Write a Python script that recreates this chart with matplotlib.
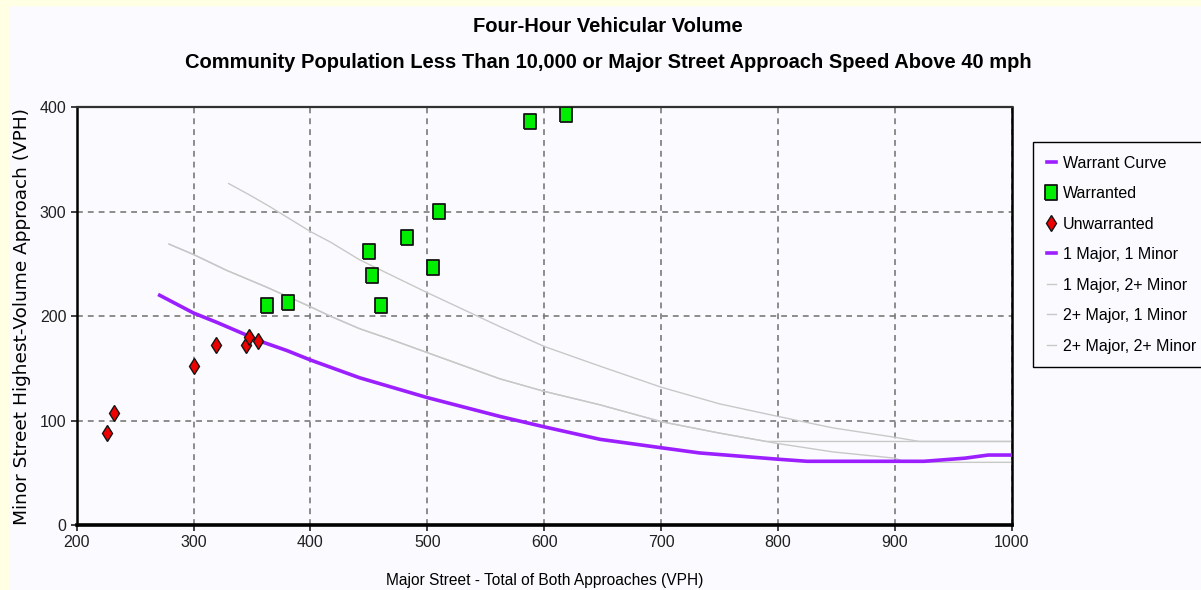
import matplotlib
matplotlib.use("Agg")
import matplotlib.pyplot as plt
from matplotlib.patches import Rectangle
from matplotlib.lines import Line2D

plt.rcParams['font.family'] = ['Liberation Sans', 'DejaVu Sans']

# observed points
unwarr_x = [226, 232, 300, 319, 345, 347, 355]
unwarr_y = [88, 107, 152, 172, 172, 180, 176]

warr_x = [363, 381, 450, 453, 460, 483, 505, 510, 588, 619]
warr_y = [211, 214, 262, 239, 211, 276, 247, 301, 387, 394]

# warrant curves
one_one_x = [271, 300, 320, 345, 357, 380, 400, 442, 500, 562, 600, 648, 700, 733, 800, 825, 875, 925, 960, 980, 1000]
one_one_y = [220, 203, 194, 182, 176, 167, 158, 141, 122, 104, 94, 82, 74, 69, 63, 61, 61, 61, 64, 67, 67]

two_two_x = [330, 348, 365, 400, 417, 442, 499, 562, 590, 600, 648, 700, 750, 800, 847, 900, 921, 1000]
two_two_y = [327, 316, 305, 281, 271, 254, 223, 190, 176, 171, 152, 132, 116, 104, 93, 84, 80, 80]

two_one_x = [279, 300, 328, 362, 400, 417, 442, 468, 562, 600, 648, 700, 750, 800, 847, 900, 910, 1000]
two_one_y = [269, 259, 244, 228, 209, 200, 188, 178, 140, 128, 115, 99, 88, 78, 70, 64, 60, 60]

one_two_x = [279, 300, 328, 362, 400, 417, 442, 468, 562, 600, 648, 700, 750, 790, 1000]
one_two_y = [269, 259, 244, 228, 209, 200, 188, 178, 140, 128, 115, 99, 88, 80, 80]

bg = '#fbfbff'
purple = '#9b1fff'
gray = '#c8c8c8'

fig = plt.figure(figsize=(12.01, 5.90), dpi=100, facecolor=bg)
# yellow frame on the left/top edge
fig.patches.append(Rectangle((0, 0), 8 / 1201, 1, transform=fig.transFigure, color='#ffffe4', zorder=0))
fig.patches.append(Rectangle((0, 1 - 5 / 590), 1, 5 / 590, transform=fig.transFigure, color='#ffffe4', zorder=0))

ax = fig.add_axes([76.7 / 1201, 1 - 525 / 590, 935 / 1201, 417.7 / 590], facecolor=bg)

ax.plot(two_two_x, two_two_y, color=gray, lw=1.0, zorder=2)
ax.plot(two_one_x, two_one_y, color=gray, lw=1.0, zorder=2)
ax.plot(one_two_x, one_two_y, color=gray, lw=1.0, zorder=2)
ax.plot(one_one_x, one_one_y, color=purple, lw=2.6, zorder=3)

rect = [(-0.4, -0.5), (0.4, -0.5), (0.4, 0.5), (-0.4, 0.5), (-0.4, -0.5)]
ax.plot(warr_x, warr_y, ls='none', marker=rect, ms=10.8, mfc='#00ee00', mec='#151515', mew=1.3, zorder=5)
ax.plot(unwarr_x, unwarr_y, ls='none', marker='d', ms=8.5, mfc='#ee0000', mec='#151515', mew=1.0, zorder=5)

ax.set_xlim(200, 1000)
ax.set_ylim(0, 400)
ax.set_xticks(range(200, 1001, 100))
ax.set_yticks(range(0, 401, 100))
ax.grid(True, color='#7a7a7a', ls=(0, (3.5, 3)), lw=1.2)
ax.tick_params(labelsize=11.5, colors='#202020', length=4, width=1.2)

for side in ['left', 'right']:
    ax.spines[side].set_linewidth(1.8)
    ax.spines[side].set_color('#000000')
ax.spines['bottom'].set_linewidth(2.6)
ax.spines['top'].set_linewidth(1.6)
ax.spines['top'].set_color('#303030')

ax.set_xlabel('Major Street - Total of Both Approaches (VPH)', fontsize=11.2, labelpad=16)
ax.set_ylabel('Minor Street Highest-Volume Approach (VPH)', fontsize=13.3, labelpad=6,
              family=['DejaVu Sans'])

fig.text(608 / 1201, 1 - 27 / 590, 'Four-Hour Vehicular Volume', ha='center', va='center',
         fontsize=14.5, fontweight='bold')
fig.text(608 / 1201, 1 - 62 / 590,
         'Community Population Less Than 10,000 or Major Street Approach Speed Above 40 mph',
         ha='center', va='center', fontsize=14.5, fontweight='bold')

handles = [
    Line2D([], [], color=purple, lw=2.6),
    Line2D([], [], ls='none', marker=rect, ms=10.8, mfc='#00ee00', mec='#151515', mew=1.3),
    Line2D([], [], ls='none', marker='d', ms=8.5, mfc='#ee0000', mec='#151515', mew=1.0),
    Line2D([], [], color=purple, lw=2.6),
    Line2D([], [], color=gray, lw=1.0),
    Line2D([], [], color=gray, lw=1.0),
    Line2D([], [], color=gray, lw=1.0),
]
labels = ['Warrant Curve', 'Warranted', 'Unwarranted', '1 Major, 1 Minor',
          '1 Major, 2+ Minor', '2+ Major, 1 Minor', '2+ Major, 2+ Minor']
leg = fig.legend(handles, labels, loc='upper left', bbox_to_anchor=(1033 / 1201, 1 - 142 / 590),
                 fontsize=11.5, handlelength=0.6, handletextpad=0.4, labelspacing=0.97,
                 borderpad=0.85, borderaxespad=0, fancybox=False, facecolor=bg, framealpha=1)
leg.get_frame().set_edgecolor('#000000')
leg.get_frame().set_linewidth(1.0)

fig.savefig('out.png', dpi=100, facecolor=bg)
